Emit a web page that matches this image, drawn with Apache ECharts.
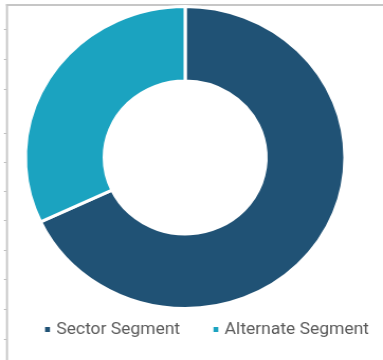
<!DOCTYPE html>
<html>
<head>
<meta charset="utf-8">
<script src="https://cdn.jsdelivr.net/npm/echarts@6/dist/echarts.min.js"></script>
<style>
html,body{margin:0;padding:0;background:#fff;overflow:hidden;}
#wrap{width:383px;height:360px;position:relative;overflow:hidden;}
#chart{width:362px;height:360px;position:absolute;left:0;top:0;transform:scaleX(1.058);transform-origin:0 0;}
</style>
</head>
<body>
<div id="wrap"><div id="chart"></div></div>
<script>
const categories = ['Sector Segment', 'Alternate Segment'];
const values = [68, 32];
const colors = ['#205275', '#1ba3c0'];

const SX = 1.058;
const tickYs = [29, 59, 89, 133, 162, 191, 220, 250, 279, 309, 339];

const chart = echarts.init(document.getElementById('chart'), null, {renderer: 'canvas'});

const graphics = [
  {type: 'rect', shape: {x: 6 / SX, y: 4, width: 400, height: 2}, style: {fill: '#c6c6c6'}, silent: true},
  {type: 'rect', shape: {x: 6 / SX, y: 4, width: 2 / SX, height: 360}, style: {fill: '#c6c6c6'}, silent: true}
];
tickYs.forEach(y => {
  graphics.push({type: 'rect', shape: {x: 4 / SX, y: y, width: 2 / SX, height: 1}, style: {fill: '#b5b5b5'}, silent: true});
});

chart.setOption({
  animation: false,
  color: colors,
  graphic: graphics,
  legend: {
    data: categories,
    left: 40.6,
    top: 321,
    padding: 0,
    icon: 'rect',
    itemWidth: 6.6,
    itemHeight: 7,
    itemGap: 29.5,
    textStyle: {
      fontFamily: 'Roboto',
      fontSize: 16.5,
      color: '#5a5a5a',
      padding: [0, 0, 0, 0]
    }
  },
  series: [{
    type: 'pie',
    center: [175, 157.5],
    radius: [76.5, 151],
    startAngle: 90,
    clockwise: true,
    label: {show: false},
    labelLine: {show: false},
    itemStyle: {borderColor: '#ffffff', borderWidth: 3},
    emphasis: {disabled: true},
    data: categories.map((c, i) => ({name: c, value: values[i]}))
  }]
});
</script>
</body>
</html>
